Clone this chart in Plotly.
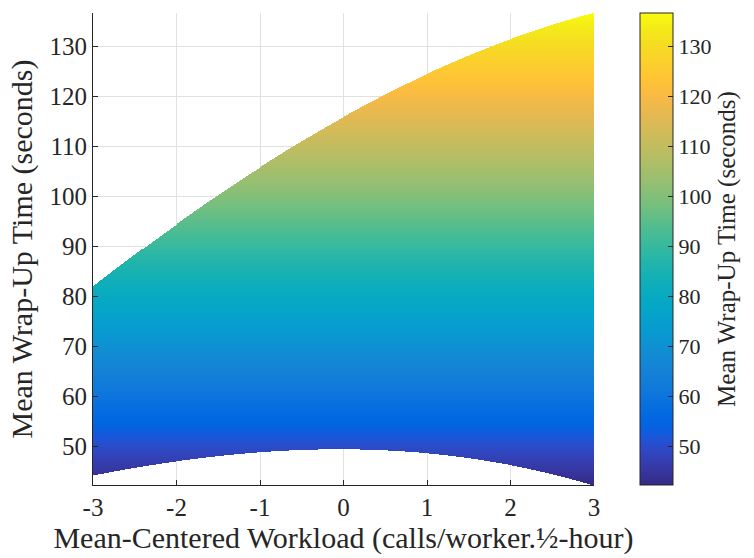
import numpy as np
import plotly.graph_objects as go

# Data
x_pts = [-3.0, -2.5, -2.0, -1.5, -1.0, -0.5, 0.0, 0.5, 1.0, 1.5, 2.0, 2.5, 3.0]
upper_wrapup = [81.8, 88.3, 94.5, 100.3, 105.8, 111.0, 115.8, 120.3, 124.6, 128.2, 131.3, 134.2, 136.7]
lower_wrapup = [44.2, 45.7, 47.0, 48.0, 48.8, 49.3, 49.5, 49.3, 48.6, 47.6, 46.2, 44.4, 42.2]
x_ticks = [-3, -2, -1, 0, 1, 2, 3]
y_ticks = [50, 60, 70, 80, 90, 100, 110, 120, 130]

ymin = min(lower_wrapup)
ymax = max(upper_wrapup)

parula = [
    [0.2081, 0.1663, 0.5292], [0.2116, 0.1898, 0.5777], [0.2123, 0.2138, 0.6270], [0.2081, 0.2386, 0.6771],
    [0.1959, 0.2645, 0.7279], [0.1707, 0.2919, 0.7792], [0.1253, 0.3242, 0.8303], [0.0591, 0.3598, 0.8683],
    [0.0117, 0.3875, 0.8820], [0.0060, 0.4086, 0.8828], [0.0165, 0.4266, 0.8786], [0.0329, 0.4430, 0.8720],
    [0.0498, 0.4586, 0.8641], [0.0629, 0.4737, 0.8554], [0.0723, 0.4887, 0.8467], [0.0779, 0.5040, 0.8384],
    [0.0793, 0.5200, 0.8312], [0.0749, 0.5375, 0.8263], [0.0641, 0.5570, 0.8240], [0.0488, 0.5772, 0.8228],
    [0.0343, 0.5966, 0.8199], [0.0265, 0.6137, 0.8135], [0.0239, 0.6287, 0.8038], [0.0231, 0.6418, 0.7913],
    [0.0228, 0.6535, 0.7768], [0.0267, 0.6642, 0.7607], [0.0384, 0.6743, 0.7436], [0.0590, 0.6838, 0.7254],
    [0.0843, 0.6928, 0.7062], [0.1133, 0.7015, 0.6859], [0.1453, 0.7098, 0.6646], [0.1801, 0.7177, 0.6424],
    [0.2178, 0.7250, 0.6193], [0.2586, 0.7317, 0.5954], [0.3022, 0.7376, 0.5712], [0.3482, 0.7424, 0.5473],
    [0.3953, 0.7459, 0.5244], [0.4420, 0.7481, 0.5033], [0.4871, 0.7491, 0.4840], [0.5300, 0.7491, 0.4661],
    [0.5709, 0.7485, 0.4494], [0.6099, 0.7473, 0.4337], [0.6473, 0.7456, 0.4188], [0.6834, 0.7435, 0.4044],
    [0.7184, 0.7411, 0.3905], [0.7525, 0.7384, 0.3768], [0.7858, 0.7356, 0.3633], [0.8185, 0.7327, 0.3498],
    [0.8507, 0.7299, 0.3360], [0.8824, 0.7274, 0.3217], [0.9139, 0.7258, 0.3063], [0.9450, 0.7261, 0.2886],
    [0.9739, 0.7314, 0.2666], [0.9938, 0.7455, 0.2403], [0.9990, 0.7653, 0.2164], [0.9955, 0.7861, 0.1967],
    [0.9880, 0.8066, 0.1794], [0.9789, 0.8271, 0.1633], [0.9697, 0.8481, 0.1475], [0.9626, 0.8705, 0.1309],
    [0.9589, 0.8949, 0.1132], [0.9598, 0.9218, 0.0948], [0.9661, 0.9514, 0.0755], [0.9763, 0.9831, 0.0538],
]
n = len(parula)
colorscale = [[i / (n - 1), "rgb(%d,%d,%d)" % tuple(int(round(c * 255)) for c in rgb)] for i, rgb in enumerate(parula)]

# Fill the region between the two curves (smoothed through the read points), coloured by y
xg = np.linspace(-3, 3, 508)
yg = np.linspace(ymin, ymax, 475)
up = np.polyval(np.polyfit(x_pts, upper_wrapup, 3), xg)
lo = np.polyval(np.polyfit(x_pts, lower_wrapup, 3), xg)
Y = np.tile(yg[:, None], (1, len(xg)))
mask = (Y >= lo[None, :]) & (Y <= up[None, :])
Z = np.where(mask, Y, np.nan)
Z = np.round(Z, 2)

font_family = "Liberation Serif"
dark = "rgb(38,38,38)"

L, R, T, B = 93, 154, 13, 71
plot_w = 754 - L - R

fig = go.Figure()
fig.add_trace(go.Heatmap(
    x=xg, y=yg, z=Z, zmin=ymin, zmax=ymax, colorscale=colorscale, zsmooth=False,
    hoverinfo="skip",
    colorbar=dict(
        x=(647 - L) / plot_w, xanchor="left", xref="paper",
        y=0.5, yanchor="middle", len=1.0, lenmode="fraction",
        thickness=33, thicknessmode="pixels",
        outlinecolor=dark, outlinewidth=1,
        ticks="inside", ticklen=5, tickcolor=dark,
        tickvals=y_ticks, tickfont=dict(family=font_family, size=22, color=dark),
        title=dict(text="Mean Wrap-Up Time (seconds)", side="right",
                   font=dict(family=font_family, size=25, color=dark)),
        xpad=0, ypad=0,
    ),
))

fig.update_layout(
    width=754, height=558,
    margin=dict(l=L, r=R, t=T, b=B),
    plot_bgcolor="white", paper_bgcolor="white",
    font=dict(family=font_family, color=dark),
    showlegend=False,
)
fig.update_xaxes(
    range=[-3, 3], tickvals=x_ticks, ticktext=[str(v) for v in x_ticks],
    showgrid=True, gridcolor="rgb(225,225,225)", gridwidth=1,
    showline=True, linecolor=dark, linewidth=1, mirror=False,
    ticks="inside", ticklen=5, tickcolor=dark, zeroline=False,
    tickfont=dict(family=font_family, size=25, color=dark),
    title=dict(text="Mean-Centered Workload (calls/worker.½-hour)", standoff=4,
               font=dict(family=font_family, size=30, color=dark)),
)
fig.update_yaxes(
    range=[ymin, ymax], tickvals=y_ticks,
    showgrid=True, gridcolor="rgb(225,225,225)", gridwidth=1,
    showline=True, linecolor=dark, linewidth=1, mirror=False,
    ticks="inside", ticklen=5, tickcolor=dark, zeroline=False,
    tickfont=dict(family=font_family, size=25, color=dark),
    title=dict(text="Mean Wrap-Up Time (seconds)", standoff=8,
               font=dict(family=font_family, size=30, color=dark)),
)

fig.write_html("out.html")
